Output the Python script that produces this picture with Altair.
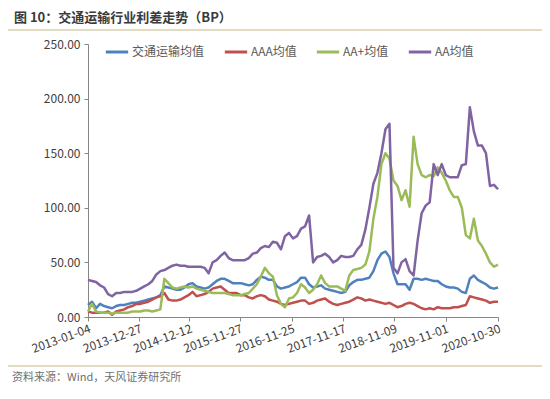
import altair as alt
import pandas as pd

# ---- data (one value every 4 weeks) ----
series_names = ["交通运输均值", "AAA均值", "AA+均值", "AA均值"]
series_colors = ["#4F81BD", "#C0504D", "#9BBB59", "#8064A2"]
tick_dates = ["2013-01-04", "2013-12-27", "2014-12-12", "2015-11-27", "2016-11-25",
              "2017-11-17", "2018-11-09", "2019-11-01", "2020-10-30"]
dates = pd.date_range("2013-01-04", periods=103, freq="28D")

transport = [11, 14, 8, 12, 10, 9, 8, 10, 11, 11,
             12, 13, 13, 14, 15, 16, 17, 18, 20, 28,
             27, 26, 25, 25, 27, 30, 31, 28, 27, 26,
             27, 30, 33, 35, 35, 33, 31, 31, 31, 30,
             29, 30, 34, 37, 36, 34, 34, 28, 26, 27,
             28, 30, 32, 36, 36, 30, 27, 28, 29, 26,
             25, 24, 23, 22, 23, 29, 32, 34, 34, 35,
             36, 42, 52, 58, 60, 55, 40, 30, 30, 30,
             25, 35, 35, 34, 35, 34, 33, 33, 30, 28,
             27, 27, 26, 23, 22, 35, 38, 34, 32, 30,
             27, 26, 27]
aaa = [5, 4, 4, 4, 4, 5, 2, 5, 6, 7,
       9, 10, 12, 12, 13, 14, 16, 18, 19, 22,
       16, 15, 15, 16, 18, 20, 23, 19, 20, 21,
       23, 26, 27, 28, 25, 22, 22, 22, 20, 20,
       18, 17, 19, 20, 19, 16, 15, 14, 12, 11,
       12, 13, 14, 15, 15, 12, 13, 15, 16, 17,
       14, 12, 11, 12, 13, 14, 16, 18, 17, 15,
       16, 15, 14, 13, 12, 13, 11, 9, 10, 12,
       13, 12, 10, 8, 7, 8, 7, 9, 8, 8,
       8, 9, 9, 10, 11, 19, 18, 17, 16, 15,
       13, 14, 14]
aa_plus = [5, 12, 5, 4, 4, 4, 3, 4, 4, 4,
           4, 5, 5, 5, 6, 6, 5, 6, 7, 35,
           31, 27, 26, 27, 28, 27, 28, 26, 25, 24,
           23, 22, 22, 22, 22, 21, 20, 20, 20, 21,
           22, 26, 30, 37, 45, 40, 37, 20, 12, 9,
           17, 18, 22, 30, 27, 22, 25, 30, 38, 31,
           28, 28, 28, 26, 24, 38, 43, 44, 45, 48,
           60, 90, 110, 140, 150, 145, 125, 120, 107, 116,
           101, 165, 140, 130, 128, 130, 129, 137, 132, 125,
           116, 110, 110, 100, 75, 72, 90, 70, 65, 58,
           50, 46, 48]
aa = [34, 33, 32, 29, 27, 21, 19, 22, 22, 23,
      23, 23, 24, 26, 28, 30, 33, 39, 42, 43,
      45, 47, 48, 47, 47, 46, 46, 46, 46, 45,
      40, 50, 52, 56, 59, 54, 52, 52, 52, 52,
      54, 58, 59, 63, 65, 64, 69, 68, 62, 74,
      77, 72, 74, 81, 83, 93, 50, 55, 56, 58,
      55, 50, 52, 56, 55, 55, 56, 62, 66, 80,
      100, 122, 132, 150, 172, 177, 45, 40, 50, 53,
      42, 38, 70, 95, 102, 105, 140, 130, 140, 130,
      128, 128, 128, 139, 140, 192, 170, 157, 157, 150,
      120, 121, 117]

title_text = "图 10：交通运输行业利差走势（BP）"
source_text = "资料来源：Wind，天风证券研究所"

rows = []
for name, vals in zip(series_names, [transport, aaa, aa_plus, aa]):
    for d, v in zip(dates, vals):
        rows.append({"date": d, "value": v, "series": name})
df = pd.DataFrame(rows)

CJK = "Noto Sans CJK SC"

lines = alt.Chart(df).mark_line(strokeWidth=2.5, strokeJoin="round").encode(
    x=alt.X("date:T",
            scale=alt.Scale(domain=[tick_dates[0], tick_dates[-1]], nice=False),
            axis=alt.Axis(values=tick_dates, format="%Y-%m-%d", title=None,
                          labelAngle=-20, labelAlign="right", labelBaseline="top",
                          labelOverlap=False, labelFlush=False, labelFontSize=12,
                          labelFont=CJK, labelColor="#404040", labelPadding=2,
                          tickSize=4, grid=False, domainColor="#868686",
                          tickColor="#868686")),
    y=alt.Y("value:Q",
            scale=alt.Scale(domain=[0, 250], nice=False),
            axis=alt.Axis(values=[0, 50, 100, 150, 200, 250], format=".2f", title=None,
                          labelFontSize=12, labelFont=CJK, labelColor="#404040",
                          tickSize=4, labelPadding=4, grid=False,
                          domainColor="#868686", tickColor="#868686")),
    color=alt.Color("series:N",
                    scale=alt.Scale(domain=series_names, range=series_colors),
                    legend=alt.Legend(title=None, orient="none", legendX=16, legendY=-5,
                                      direction="horizontal", symbolType="stroke",
                                      symbolSize=500, symbolStrokeWidth=3,
                                      labelFont=CJK, labelFontSize=12,
                                      labelColor="#595959", columnPadding=13,
                                      labelOffset=2)),
    order=alt.Order("date:T"),
)

one = alt.Data(values=[{}])

title = alt.Chart(one).mark_text(align="left", baseline="middle", font=CJK,
                                 fontSize=13, fontWeight="bold", color="#3a3a3a").encode(
    x=alt.value(-74), y=alt.value(-26), text=alt.value(title_text))
title_rule = alt.Chart(one).mark_rule(color="#d9cfae", strokeWidth=1.5).encode(
    x=alt.value(-80), x2=alt.value(454), y=alt.value(-14))
foot_rule = alt.Chart(one).mark_rule(color="#d9cfae", strokeWidth=1.5).encode(
    x=alt.value(-80), x2=alt.value(454), y=alt.value(322))
foot = alt.Chart(one).mark_text(align="left", baseline="middle", font=CJK,
                                fontSize=11, color="#707070").encode(
    x=alt.value(-76), y=alt.value(334), text=alt.value(source_text))

chart = alt.layer(lines, title, title_rule, foot_rule, foot).properties(
    width=410, height=273,
    autosize=alt.AutoSizeParams(type="none"),
    padding={"left": 80, "top": 36, "right": 44, "bottom": 74},
    background="white",
).configure_view(stroke=None)

chart.save("out.html", embed_options={"renderer": "svg", "actions": False})
